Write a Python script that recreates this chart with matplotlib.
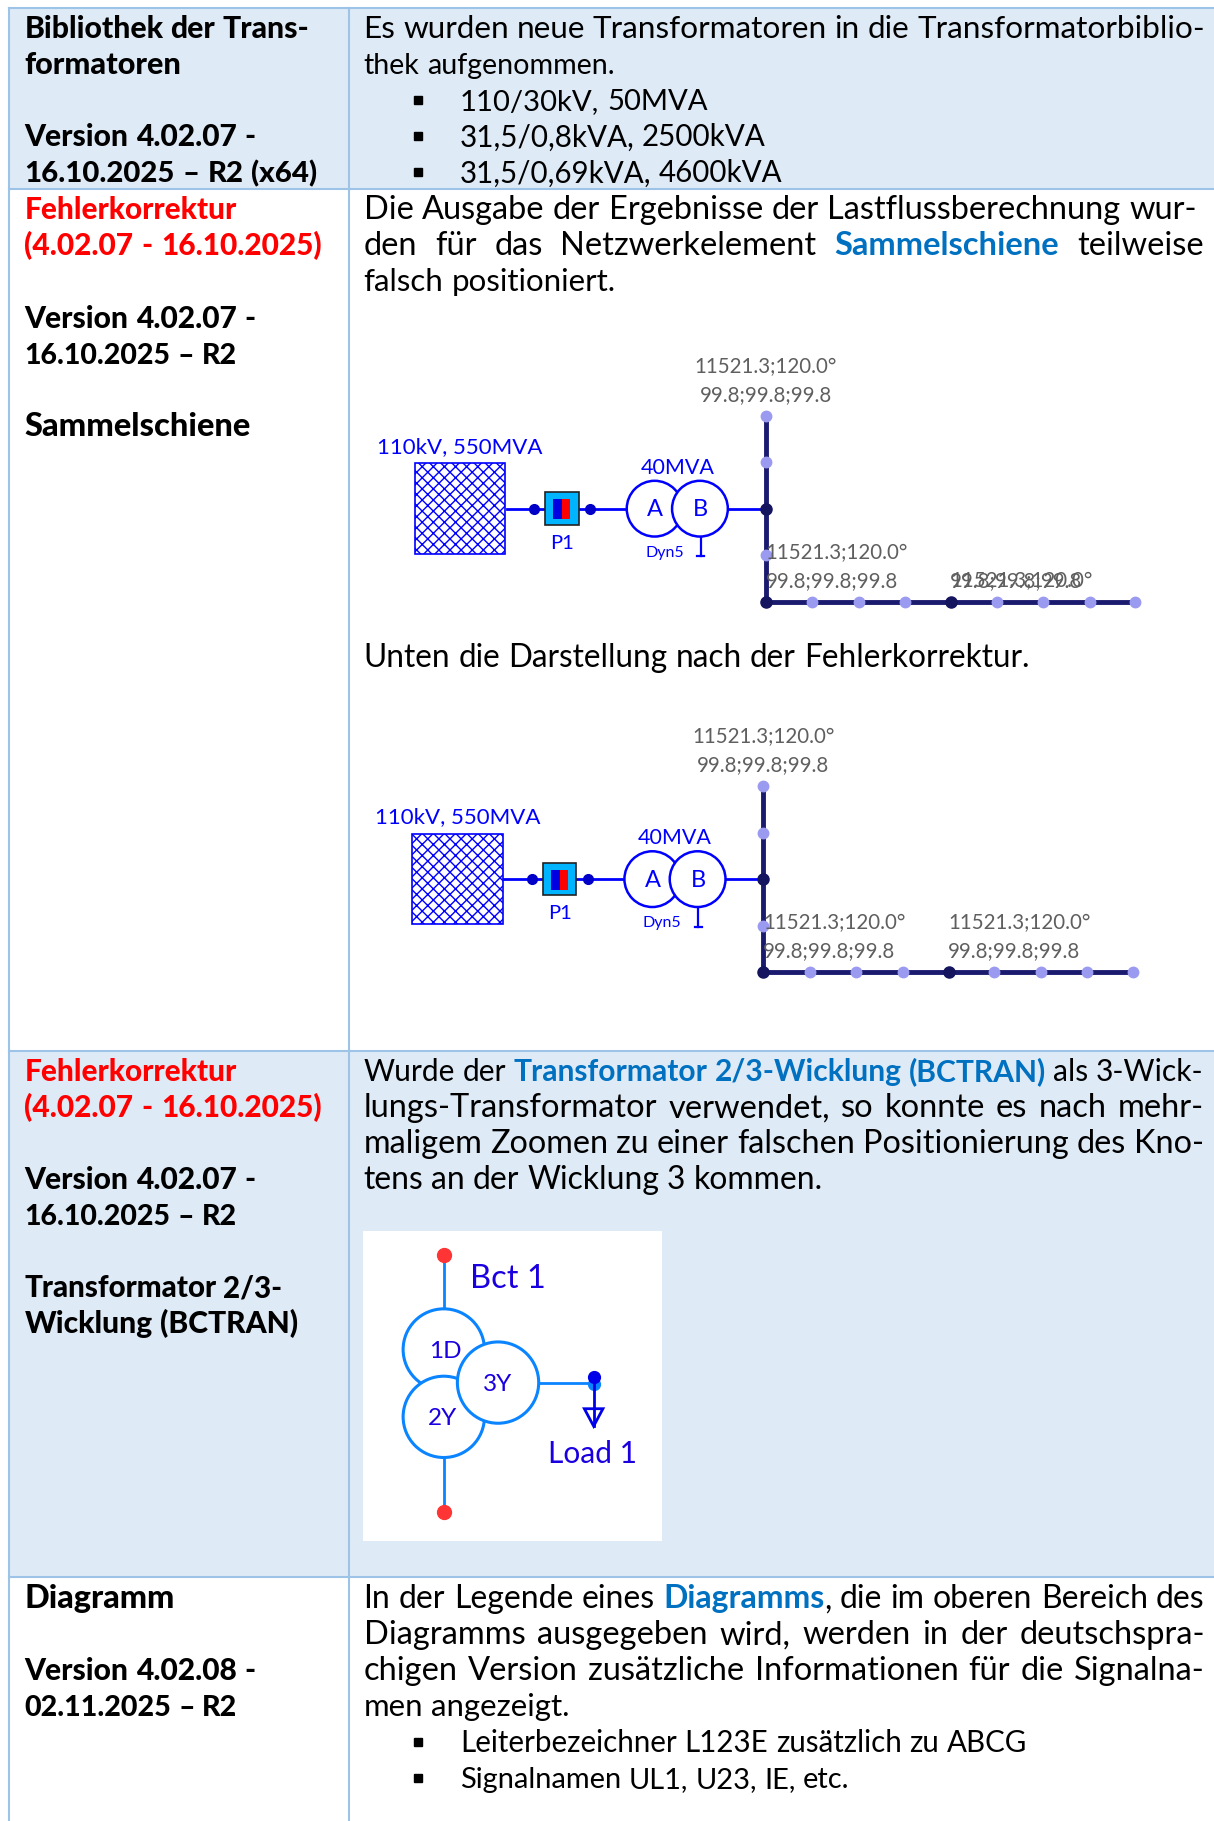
import matplotlib
matplotlib.use('Agg')
import matplotlib.pyplot as plt
from matplotlib.patches import Rectangle, Circle, Polygon

# -------------------------------
# Inhalt der Tabelle
# -------------------------------

row_lines = [7, 163, 905, 1358]
col_lines = [8, 300]
blue_rows = [(7, 163), (905, 1358)]

# text, y, links, rechts
left_black = [
    ("Bibliothek der Trans-", 24, 21, 266),
    ("formatoren", 55, 21, 156),
    ("Version 4.02.07 -", 117, 21, 220),
    ("16.10.2025 – R2 (x64)", 148, 21, 273),
    ("Version 4.02.07 -", 273, 21, 220),
    ("16.10.2025 – R2", 304, 21, 204),
    ("Sammelschiene", 366, 21, 216),
    ("Version 4.02.07 -", 1015, 21, 220),
    ("16.10.2025 – R2", 1046, 21, 204),
    ("Transformator 2/3-", 1108, 21, 243),
    ("Wicklung (BCTRAN)", 1139, 21, 257),
    ("Diagramm", 1376, 21, 150),
    ("Version 4.02.08 -", 1438, 21, 220),
    ("02.11.2025 – R2", 1469, 21, 204),
]
left_red = [
    ("Fehlerkorrektur", 180, 21, 203),
    ("(4.02.07 - 16.10.2025)", 211, 21, 277),
    ("Fehlerkorrektur", 922, 21, 203),
    ("(4.02.07 - 16.10.2025)", 953, 21, 277),
]
body_lines = [
    ("Es wurden neue Transformatoren in die Transformatorbiblio-", 24, 313, 1037),
    ("thek aufgenommen.", 55, 313, 529),
    ("Die Ausgabe der Ergebnisse der Lastflussberechnung wur-", 180, 313, 1030),
    ("den für das Netzwerkelement *Sammelschiene teilweise", 211, 313, 1036),
    ("falsch positioniert.", 242, 313, 530),
    ("Unten die Darstellung nach der Fehlerkorrektur.", 565, 313, 886),
    ("Wurde der *Transformator *2/3-Wicklung *(BCTRAN) als 3-Wick-", 922, 313, 1036),
    ("lungs-Transformator verwendet, so konnte es nach mehr-", 953, 313, 1036),
    ("maligem Zoomen zu einer falschen Positionierung des Kno-", 984, 313, 1036),
    ("tens an der Wicklung 3 kommen.", 1015, 313, 708),
    ("In der Legende eines *Diagramms, die im oberen Bereich des", 1376, 313, 1037),
    ("Diagramms ausgegeben wird, werden in der deutschspra-", 1407, 313, 1037),
    ("chigen Version zusätzliche Informationen für die Signalna-", 1438, 313, 1037),
    ("men angezeigt.", 1469, 313, 490),
]
bullet_lines = [
    ("110/30kV, 50MVA", 86, 396, 609),
    ("31,5/0,8kVA, 2500kVA", 117, 396, 659),
    ("31,5/0,69kVA, 4600kVA", 148, 396, 673),
    ("Leiterbezeichner L123E zusätzlich zu ABCG", 1500, 396, 884),
    ("Signalnamen UL1, U23, IE, etc.", 1531, 396, 731),
]

# Messwerte im Netzbild
messwert = "11521.3;120.0°"
prozent = "99.8;99.8;99.8"

# -------------------------------
# Figur: Achse in Pixeln des Bildes
# -------------------------------

fig = plt.figure(figsize=(12.14, 18.21), dpi=100)
ax = fig.add_axes([0, 0, 1, 1])
ax.set_xlim(0, 1045)
ax.set_ylim(1568, 0)
ax.axis('off')
renderer = fig.canvas.get_renderer()

BORDER = '#9DC3E6'
FILL = '#DEEAF6'
LINE = '#0000FF'
BUS = '#1A1A6E'
LIGHT = '#9A9AF0'
DARK = '#14145F'
GRAU = '#5F5F5F'
BCT = '#0A84FF'
LABEL = '#1A00E0'

for y0, y1 in blue_rows:
    ax.add_patch(Rectangle((8, y0), 1037, y1 - y0, fc=FILL, ec='none', zorder=0))
for y in row_lines:
    ax.plot([8, 1045], [y, y], color=BORDER, lw=1.5, zorder=1)
for x in col_lines:
    ax.plot([x, x], [7, 1568], color=BORDER, lw=1.5, zorder=1)


# Breite eines Textes in Achseneinheiten
def breite(t):
    return t.get_window_extent(renderer).width * 1045 / 1214


# Eine Zeile auf die Breite x0..x1 setzen, Wörter mit * sind blau und fett
def zeile(text, y, x0, x1, color='#000000', bold=False, font='Lato', size=21.0):
    parts = []
    glued = []
    base = 'black' if bold else 'normal'
    for w in text.split(' '):
        hi = w.startswith('*')
        w = w.lstrip('*')
        komma = hi and w.endswith(',')
        if komma:
            w = w[:-1]
        kw = dict(family=font, va='baseline', fontsize=size)
        parts.append(ax.text(0, y + 9, w, color='#0070C0' if hi else color,
                             weight='bold' if hi else base, **kw))
        glued.append(False)
        if komma:
            parts.append(ax.text(0, y + 9, ',', color=color, weight=base, **kw))
            glued.append(True)
    sp = ax.text(0, 0, 'a a', family=font, fontsize=size)
    sa = ax.text(0, 0, 'aa', family=font, fontsize=size)
    space = breite(sp) - breite(sa)
    sp.remove()
    sa.remove()
    ngaps = len(parts) - 1 - sum(glued)
    natural = sum(breite(p) for p in parts) + space * ngaps
    scale = max(0.88, min(1.12, (x1 - x0) / natural))
    for p in parts:
        p.set_fontsize(size * scale)
    total = sum(breite(p) for p in parts)
    gap = (x1 - x0 - total) / max(ngaps, 1)
    x = x0
    for p, g in zip(parts, glued):
        if not g and p is not parts[0]:
            x += gap
        p.set_x(x)
        x += breite(p)


for text, y, x0, x1 in left_black:
    zeile(text, y, x0, x1, bold=True)
for text, y, x0, x1 in left_red:
    zeile(text, y, x0, x1, color='#FF0000', bold=True)
for text, y, x0, x1 in body_lines:
    zeile(text, y, x0, x1)
for text, y, x0, x1 in bullet_lines:
    zeile(text, y, x0, x1)
    ax.plot([360], [y], marker='s', ms=5.5, color='#000000', zorder=3)


# -------------------------------
# Netzbild (zweimal, leicht versetzt)
# -------------------------------

def label(x, y, s, size=14.5, color=LINE, ha='center'):
    ax.text(x, y + 1, s, color=color, fontsize=size, family='Lato', ha=ha, va='center', zorder=8)


def netz(dx, dy, unten):
    f = lambda x, y: (x + dx, y + dy)
    # Quelle
    ax.add_patch(Rectangle(f(357, 399), 78, 78, fc='white', ec=LINE, lw=1.2, hatch='xxx', zorder=3))
    label(*f(396, 384), "110kV, 550MVA", 16)
    # Leitung bis zum Trafo
    ax.plot([436 + dx, 659 + dx], [438 + dy, 438 + dy], color=LINE, lw=2, zorder=2)
    for x in [460, 508]:
        ax.plot(*f(x, 438), marker='o', ms=7, color='#0000C8', zorder=4)
    # Schalter P1
    ax.add_patch(Rectangle(f(469, 424), 29, 28, fc='#00B4FF', ec='#222222', lw=1.2, zorder=4))
    ax.add_patch(Rectangle(f(476, 430), 11, 17, fc='#0000E0', ec='none', zorder=5))
    ax.add_patch(Rectangle(f(484, 430), 7, 17, fc='#FF0000', ec='none', zorder=6))
    label(*f(484, 467), "P1", 14.5)
    # Trafo
    ax.plot([603 + dx, 603 + dx], [462 + dy, 479 + dy], color=LINE, lw=1.6, zorder=2)
    ax.plot([600 + dx, 606 + dx], [479 + dy, 479 + dy], color=LINE, lw=1.6, zorder=2)
    ax.add_patch(Circle(f(563.5, 438), 24, fc='white', ec=LINE, lw=1.8, zorder=4))
    ax.add_patch(Circle(f(602.5, 438), 24, fc='white', ec=LINE, lw=1.8, zorder=5))
    label(*f(564, 438), "A", 17)
    label(*f(603, 438), "B", 17)
    label(*f(583, 402), "40MVA", 15.5)
    label(*f(572, 475), "Dyn5", 11.5)
    # Sammelschienen
    ax.plot([659 + dx, 659 + dx], [358 + dy, 518 + dy], color=BUS, lw=3.5, zorder=3)
    ax.plot([659 + dx, 977 + dx], [518 + dy, 518 + dy], color=BUS, lw=3.5, zorder=3)
    for y in [358, 398, 478]:
        ax.plot(*f(659, y), marker='o', ms=7.5, color=LIGHT, zorder=6)
    for x in [699, 739, 779, 858, 898, 938, 977]:
        ax.plot(*f(x, 518), marker='o', ms=7.5, color=LIGHT, zorder=6)
    for x, y in [(659, 438), (659, 518), (819, 518)]:
        ax.plot(*f(x, y), marker='o', ms=8, color=DARK, zorder=6)
    # Messwerte
    label(*f(659, 315), messwert, 14.8, GRAU)
    label(*f(659, 339), prozent, 14.8, GRAU)
    label(*f(659, 475), messwert, 14.8, GRAU, ha='left')
    label(*f(659, 499), prozent, 14.8, GRAU, ha='left')
    label(*f(818, 499 - unten), messwert, 14.8, GRAU, ha='left')
    label(*f(818, 499), prozent, 14.8, GRAU, ha='left')


netz(0, 0, 0)
netz(-2, 319, 24)

# -------------------------------
# Bild BCTRAN
# -------------------------------

ax.add_patch(Rectangle((312.5, 1060), 257.5, 267, fc='white', ec='none', zorder=2))
ax.plot([382.5, 382.5], [1081, 1302], color=BCT, lw=2, zorder=3)
ax.plot([464, 511], [1191, 1191], color=BCT, lw=2, zorder=3)
for c, z in [((382, 1162), 4), ((382, 1220), 5), ((428.7, 1190.5), 6)]:
    ax.add_patch(Circle(c, 35, fc='white', ec=BCT, lw=2.2, zorder=z))
for y in [1081, 1302]:
    ax.plot([382.5], [y], marker='o', ms=10, color='#FF3535', zorder=7)
ax.plot([511], [1191.5], marker='o', ms=8.5, color=BCT, zorder=4)
ax.plot([511, 511], [1186, 1228], color='#0000E8', lw=2, zorder=5)
ax.add_patch(Polygon([(503, 1213), (519, 1213), (511, 1228)], closed=True, fc='none', ec='#0000E8', lw=2, zorder=5))
ax.plot([511], [1186], marker='o', ms=8.5, color='#0000E8', zorder=6)
label(437.5, 1100, "Bct 1", 23.5, LABEL)
label(383, 1163, "1D", 17.5, LABEL)
label(381, 1220, "2Y", 17.5, LABEL)
label(428.5, 1191, "3Y", 17.5, LABEL)
label(510, 1251, "Load 1", 21.5, LABEL)

fig.savefig('out.png', dpi=100)
